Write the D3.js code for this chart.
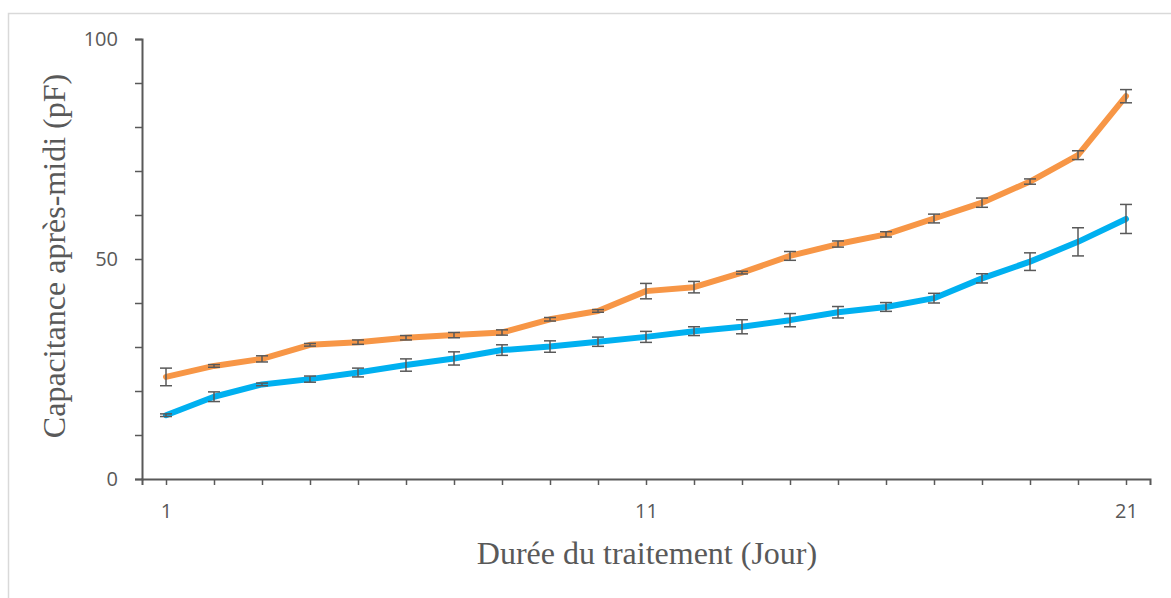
<!DOCTYPE html>
<html>
<head>
<meta charset="utf-8">
<script src="https://cdn.jsdelivr.net/npm/d3@7"></script>
<style>
  body { margin: 0; background: #fff; }
</style>
</head>
<body>
<div id="chart"></div>
<script>
////////////////////////////// data //////////////////////////////
var days = d3.range(1, 22);

var orangeVals = [23.2, 25.7, 27.3, 30.5, 31.1, 32.1, 32.7, 33.3, 36.3, 38.2, 42.7,
                  43.6, 46.9, 50.7, 53.4, 55.6, 59.2, 62.8, 67.6, 73.6, 87.0];
var orangeErr  = [2.0, 0.3, 0.7, 0.3, 0.5, 0.5, 0.6, 0.6, 0.4, 0.3, 1.75,
                  1.3, 0.3, 1.0, 0.7, 0.6, 1.0, 1.05, 0.6, 1.0, 1.5];

var blueVals = [14.5, 18.7, 21.5, 22.7, 24.2, 25.9, 27.4, 29.3, 30.1, 31.2, 32.3,
                33.6, 34.6, 36.1, 37.9, 39.1, 41.1, 45.6, 49.4, 53.9, 59.1];
var blueErr  = [0.3, 1.1, 0.3, 0.7, 1.0, 1.4, 1.5, 1.2, 1.3, 1.05, 1.25,
                1.0, 1.6, 1.5, 1.3, 1.0, 1.1, 1.05, 2.0, 3.2, 3.3];

var xTickLabels = [1, 11, 21];
var yTickLabels = [0, 50, 100];

////////////////////////////// layout //////////////////////////////
var width = 1171, height = 598;
var margin = {top: 39, right: 21, bottom: 119, left: 142};
var grey = "#595959";

var svg = d3.select("#chart").append("svg")
  .attr("width", width)
  .attr("height", height);

// light frame
svg.append("rect")
  .attr("x", 8.5).attr("y", 13.5)
  .attr("width", 1170).attr("height", 600)
  .attr("fill", "none")
  .attr("stroke", "#d9d9d9")
  .attr("stroke-width", 1.5);

var x = d3.scaleLinear()
  .domain([0.5, 21.5])
  .range([margin.left, width - margin.right]);

var y = d3.scaleLinear()
  .domain([0, 100])
  .range([height - margin.bottom, margin.top]);

////////////////////////////// axes //////////////////////////////
var xAxis = d3.axisBottom(x)
  .tickValues(days)
  .tickSize(6)
  .tickPadding(19)
  .tickFormat(function(d){ return xTickLabels.indexOf(d) >= 0 ? d : ""; });

var gx = svg.append("g")
  .attr("transform", "translate(0," + y(0) + ")")
  .call(xAxis);

var yAxis = d3.axisLeft(y)
  .tickValues(d3.range(0, 101, 10))
  .tickSize(7)
  .tickPadding(17)
  .tickFormat(function(d){ return yTickLabels.indexOf(d) >= 0 ? d : ""; });

var gy = svg.append("g")
  .attr("transform", "translate(" + margin.left + ",0)")
  .call(yAxis);

gx.attr("font-size", null).attr("font-family", null);
gy.attr("font-size", null).attr("font-family", null);

svg.selectAll(".domain").attr("stroke", grey).attr("stroke-width", 2);
svg.selectAll(".tick line").attr("stroke", grey).attr("stroke-width", 1.5);
svg.selectAll(".tick text")
  .style("fill", grey)
  .style("font-family", "'Open Sans', 'Liberation Sans', sans-serif")
  .style("font-size", "20px");

////////////////////////////// series //////////////////////////////
var series = [
  {vals: orangeVals, err: orangeErr, color: "#f79646"},
  {vals: blueVals,   err: blueErr,   color: "#00b0f0"}
];

var line = d3.line()
  .x(function(d, i){ return x(days[i]); })
  .y(function(d){ return y(d); });

series.forEach(function(s) {
  svg.append("path")
    .datum(s.vals)
    .attr("d", line)
    .attr("fill", "none")
    .attr("stroke", s.color)
    .attr("stroke-width", 6)
    .attr("stroke-linejoin", "round")
    .attr("stroke-linecap", "round");
});

// error bars drawn on top
series.forEach(function(s) {
  var g = svg.append("g")
    .attr("stroke", grey)
    .attr("stroke-width", 1.5);
  s.vals.forEach(function(v, i) {
    var cx = x(days[i]);
    var top = y(v + s.err[i]), bot = y(v - s.err[i]);
    g.append("line").attr("x1", cx).attr("x2", cx).attr("y1", top).attr("y2", bot);
    g.append("line").attr("x1", cx - 6).attr("x2", cx + 6).attr("y1", top).attr("y2", top);
    g.append("line").attr("x1", cx - 6).attr("x2", cx + 6).attr("y1", bot).attr("y2", bot);
  });
});

////////////////////////////// titles //////////////////////////////
svg.append("text")
  .attr("x", 647)
  .attr("y", 564)
  .attr("text-anchor", "middle")
  .attr("font-family", "'Liberation Serif', serif")
  .attr("font-size", "32px")
  .attr("fill", grey)
  .text("Durée du traitement (Jour)");

svg.append("text")
  .attr("transform", "translate(65,256) rotate(-90)")
  .attr("text-anchor", "middle")
  .attr("font-family", "'Liberation Serif', serif")
  .attr("font-size", "32px")
  .attr("fill", grey)
  .text("Capacitance après-midi (pF)");
</script>
</body>
</html>
